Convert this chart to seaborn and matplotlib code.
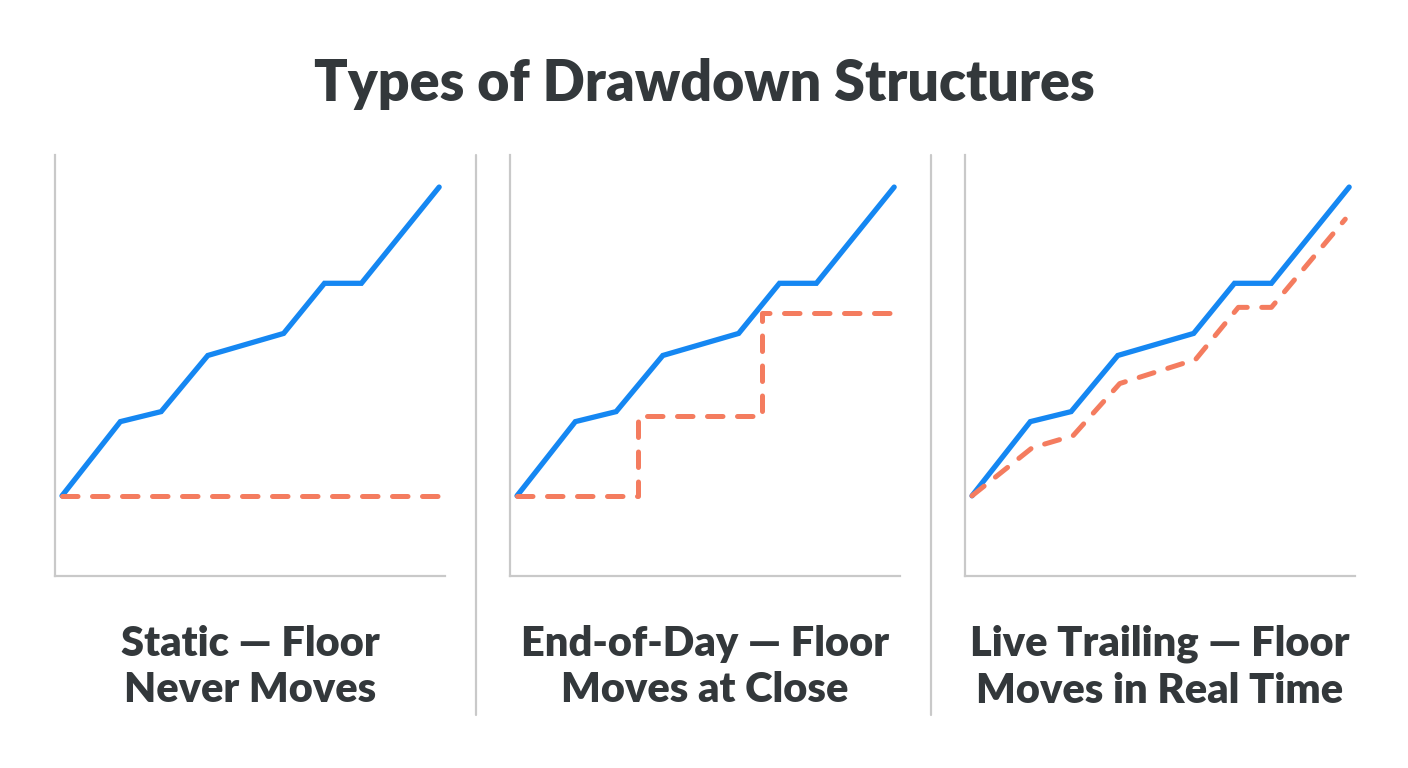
import matplotlib
matplotlib.use("Agg")
import matplotlib.pyplot as plt
from matplotlib.lines import Line2D
import pandas as pd
import seaborn as sns

# datos (unidades arbitrarias)
balance_x = [0, 1.5, 2.55, 3.75, 5.7, 6.75, 7.7, 9.7]
balance_y = [20, 38.5, 41, 55, 60.5, 73, 73, 97]

static_x = [0, 9.7]
static_y = [20, 20]

eod_x = [0, 3.1, 3.1, 6.3, 6.3, 9.6]
eod_y = [20, 20, 40, 40, 65.5, 65.5]

live_x = [0, 1.55, 2.6, 3.8, 5.75, 6.85, 7.7, 9.6]
live_y = [20, 32, 35, 48, 54, 67, 67, 89]

titulo = "Types of Drawdown Structures"
subtitulos = ["Static \u2014 Floor\nNever Moves",
              "End-of-Day \u2014 Floor\nMoves at Close",
              "Live Trailing \u2014 Floor\nMoves in Real Time"]
pisos = [(static_x, static_y), (eod_x, eod_y), (live_x, live_y)]

AZUL = "#1587F2"
CORAL = "#F47C5F"
GRIS = "#C9C9C9"
TEXTO = "#33383B"

sns.set_style("white")
plt.rcParams['font.family'] = ['Lato', 'DejaVu Sans']

W, H = 1408, 768
fig = plt.figure(figsize=(W / 100, H / 100), dpi=100)
fig.patch.set_facecolor("white")

fig.text(704 / W, 1 - 84 / H, titulo, ha='center', va='center',
         fontsize=40, fontweight='heavy', color=TEXTO)

lefts = [55, 510, 965]
for left, (px, py), sub in zip(lefts, pisos, subtitulos):
    ax = fig.add_axes([left / W, (H - 576) / H, 390 / W, 421 / H])
    sns.lineplot(x=balance_x, y=balance_y, ax=ax, color=AZUL, lw=3.8,
                 sort=False, estimator=None, solid_capstyle='round',
                 solid_joinstyle='miter')
    floor = pd.DataFrame({'x': px, 'y': py})
    sns.lineplot(data=floor, x='x', y='y', ax=ax, color=CORAL, lw=3.6,
                 sort=False, estimator=None, errorbar=None,
                 linestyle=(0, (3.1, 2.9)),
                 dash_capstyle='round', dash_joinstyle='round')
    ax.set_xlim(-0.18, 9.85)
    ax.set_ylim(0, 105)
    ax.set_xticks([])
    ax.set_yticks([])
    ax.set_xlabel('')
    ax.set_ylabel('')
    for s in ['top', 'right']:
        ax.spines[s].set_visible(False)
    for s in ['left', 'bottom']:
        ax.spines[s].set_color(GRIS)
        ax.spines[s].set_linewidth(1.6)
    fig.text((left + 195) / W, 1 - 667 / H, sub, ha='center', va='center',
             fontsize=30, fontweight='heavy', color=TEXTO, linespacing=1.28)

for xs in [476, 931]:
    fig.add_artist(Line2D([xs / W, xs / W], [1 - 155 / H, 1 - 715 / H],
                          color=GRIS, lw=1.6))

fig.savefig("out.png", dpi=100, facecolor="white")
